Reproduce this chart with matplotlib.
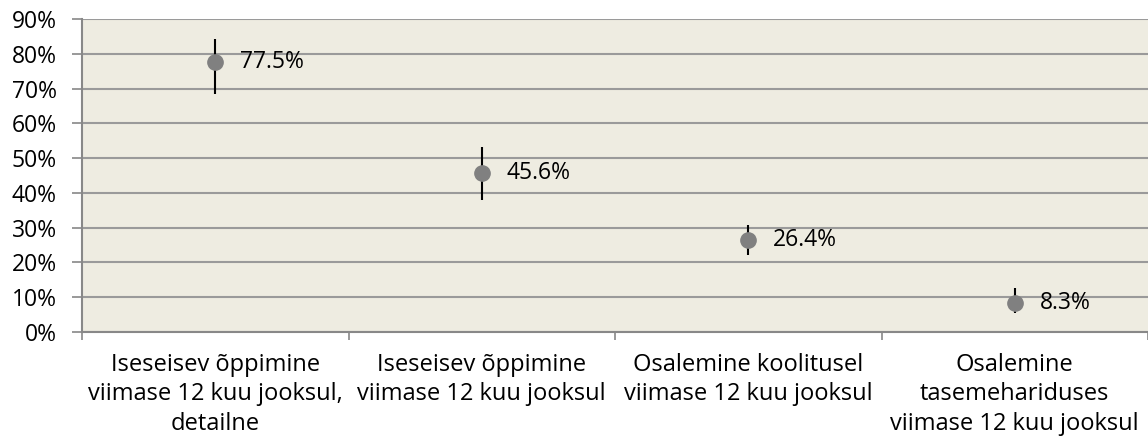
import numpy as np
import matplotlib.pyplot as plt
from matplotlib.ticker import PercentFormatter

categories = ["Iseseisev õppimine\nviimase 12 kuu jooksul,\ndetailne",
              "Iseseisev õppimine\nviimase 12 kuu jooksul",
              "Osalemine koolitusel\nviimase 12 kuu jooksul",
              "Osalemine\ntasemehariduses\nviimase 12 kuu jooksul"]
values = [77.5, 45.6, 26.4, 8.3]
err_low = [9.1, 7.7, 4.3, 2.8]
err_high = [6.8, 7.7, 4.3, 4.3]

plt.rcParams['font.family'] = ['Open Sans', 'DejaVu Sans']

fig = plt.figure(figsize=(11.48, 4.43), dpi=100)
ax = fig.add_axes([82 / 1148, 111 / 443, 1066 / 1148, 313 / 443])
ax.set_facecolor('#eeece1')

x = np.arange(len(values))
ax.errorbar(x, values, yerr=[err_low, err_high], fmt='none', ecolor='black', elinewidth=1.5, zorder=3)
ax.plot(x, values, 'o', color='#808080', markersize=11, zorder=4)
for xi, v in zip(x, values):
    ax.annotate(f"{v:.1f}%", (xi, v), xytext=(18, 0), textcoords='offset points',
                va='center', ha='left', fontsize=16.5)

ax.set_xlim(-0.5, len(values) - 0.5)
ax.set_ylim(0, 90)
ax.set_yticks(np.arange(0, 91, 10))
ax.yaxis.set_major_formatter(PercentFormatter(decimals=0))
ax.grid(axis='y', color='#9a9a9a', linewidth=1.5)
ax.set_axisbelow(True)

ax.set_xticks(np.arange(-0.5, len(values), 1.0))
ax.set_xticklabels([])
ax.set_xticks(x, minor=True)
ax.set_xticklabels(categories, minor=True, fontsize=17, linespacing=1.3)
ax.tick_params(axis='x', which='minor', length=0, pad=15)
ax.tick_params(axis='x', which='major', length=6, width=1.2, color='#888888')
ax.tick_params(axis='y', length=7, width=1.2, color='#888888', labelsize=16.5, pad=11)

for s in ['top', 'right']:
    ax.spines[s].set_visible(False)
ax.spines['left'].set_color('#888888')
ax.spines['left'].set_linewidth(1.5)
ax.spines['bottom'].set_color('#888888')
ax.spines['bottom'].set_linewidth(1.5)

fig.savefig('out.png', dpi=100)
